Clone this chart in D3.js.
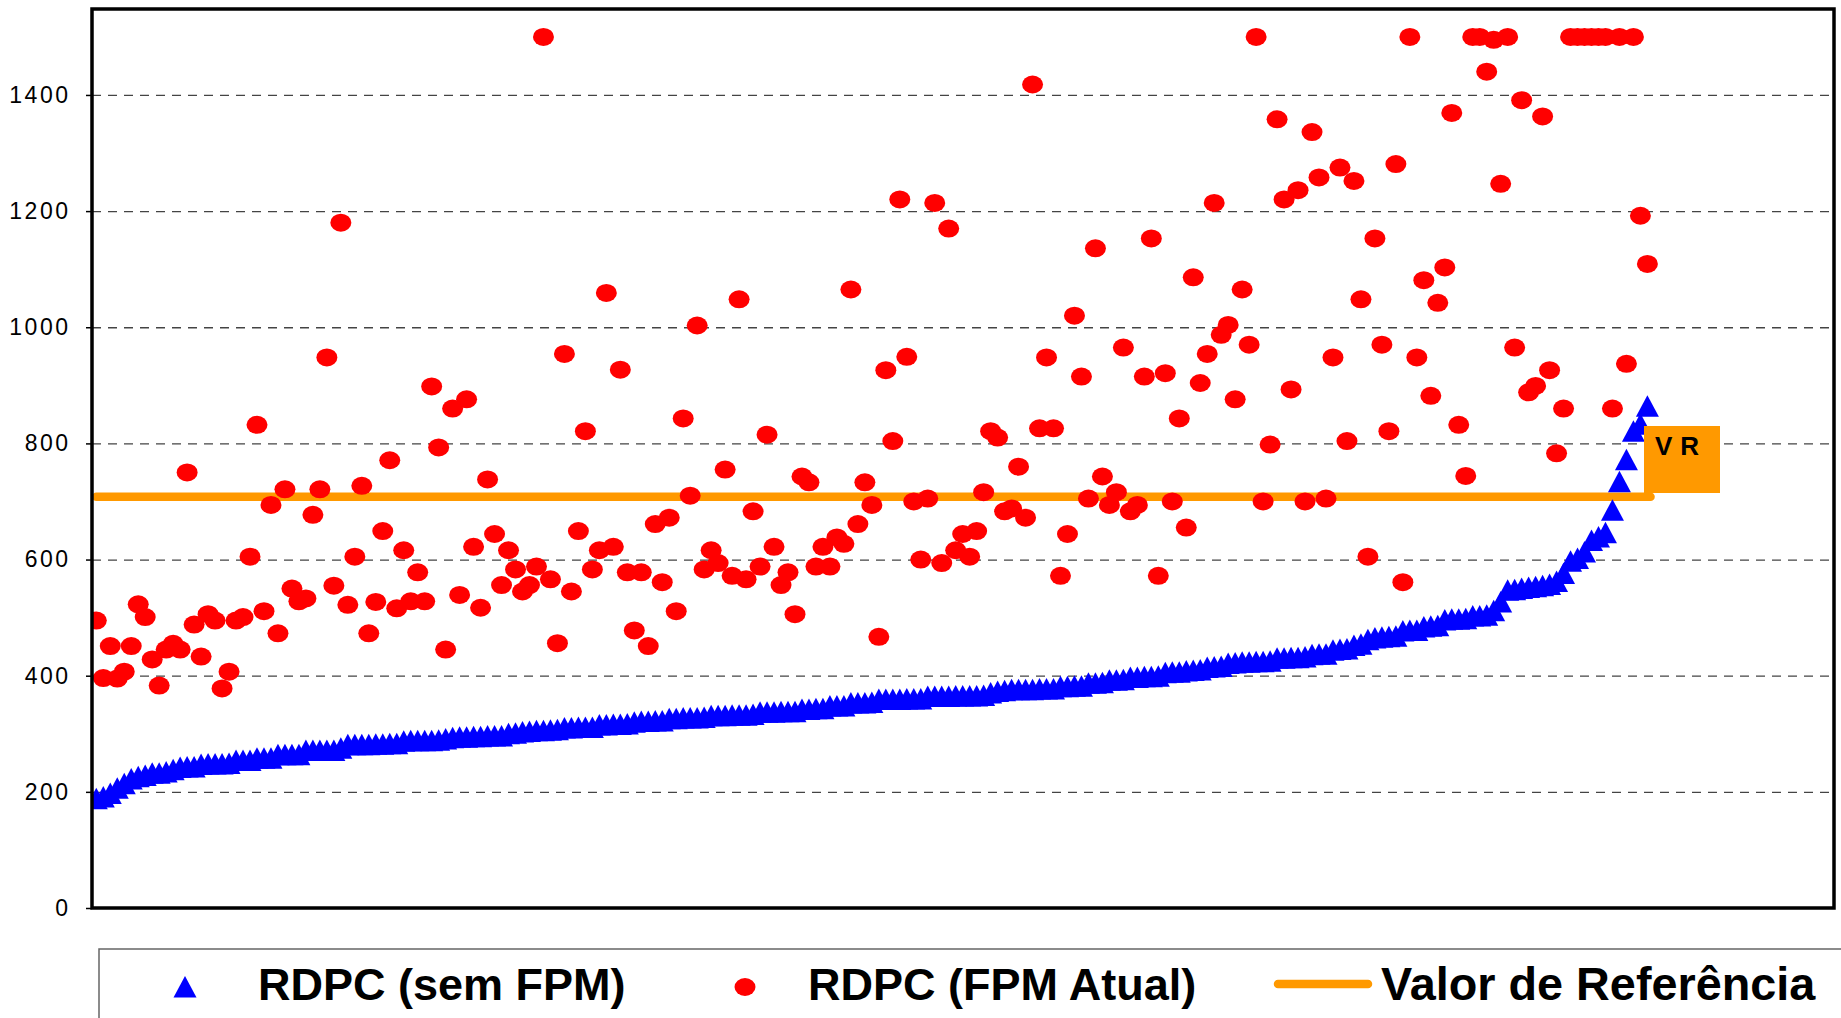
<!DOCTYPE html>
<html>
<head>
<meta charset="utf-8">
<script src="https://cdn.jsdelivr.net/npm/d3@7"></script>
<style>
  html, body { margin: 0; padding: 0; background: #ffffff; }
  svg { display: block; }
</style>
</head>
<body>
<svg id="chart" width="1841" height="1018"></svg>
<script>
// ---------------- DATA ----------------
// RDPC (sem FPM) — sorted ascending, one per municipality (223)
const rdpcSemFPM = [
  188,191,197,206,214,222,226,228,232,232,
  234,238,242,243,243,247,248,248,248,249,
  254,254,254,258,258,258,264,264,264,264,
  271,271,271,271,271,275,281,281,281,281,
  282,282,283,283,287,288,288,288,288,289,
  291,293,294,294,295,295,296,296,296,300,
  301,303,304,305,305,306,307,310,310,311,
  311,311,315,315,316,316,317,320,321,321,
  322,322,326,326,327,327,327,328,331,331,
  331,332,332,332,333,337,337,337,338,338,
  338,342,342,343,343,348,348,348,353,353,
  353,354,359,359,359,359,360,360,360,364,
  364,364,364,365,365,365,365,366,370,373,
  374,376,376,376,376,377,377,377,381,381,
  382,382,387,387,388,392,392,393,397,397,
  398,398,399,405,406,406,408,409,410,414,
  415,416,421,422,423,423,424,424,425,430,
  430,431,431,432,436,437,437,444,445,446,
  452,454,462,465,466,467,468,477,478,478,
  484,485,486,496,497,497,498,503,503,504,
  512,527,547,548,550,552,553,555,557,562,
  576,597,602,613,633,639,646,685,734,772,
  821,833,864
];
// RDPC (FPM Atual) — same municipalities, same order (values above 1500 shown at 1500)
const rdpcFPMAtual = [
  495,396,451,395,407,451,523,501,428,383,
  445,455,445,750,488,433,506,495,378,407,
  495,501,605,832,511,694,473,721,550,528,
  533,677,721,948,555,1180,522,605,727,473,
  527,649,771,516,616,528,578,528,898,793,
  445,860,539,876,622,517,738,644,556,616,
  583,545,556,588,1500,566,456,954,545,649,
  821,583,616,1059,622,927,578,478,578,451,
  661,561,672,511,843,710,1003,583,616,594,
  755,572,1048,566,683,588,815,622,556,578,
  506,743,733,588,622,588,638,627,1065,661,
  733,694,467,926,804,1220,949,700,600,705,
  1214,594,1170,616,644,605,649,716,821,810,
  683,688,760,672,1418,826,948,826,572,644,
  1020,915,705,1136,743,694,716,965,683,694,
  915,1153,572,921,700,843,655,1086,904,954,
  1214,987,1004,876,1065,970,1500,700,798,1358,
  1220,893,1236,700,1336,1258,705,948,1275,804,
  1252,1048,605,1153,970,821,1281,561,1500,948,
  1081,882,1042,1103,1369,832,744,1500,1500,1440,
  1495,1247,1500,965,1391,888,899,1363,926,783,
  860,1500,1500,1500,1500,1500,1500,860,1500,937,
  1500,1192,1109
];
const valorReferencia = 708;
const yTicks = [0, 200, 400, 600, 800, 1000, 1200, 1400];
const legendLabels = ["RDPC (sem FPM)", "RDPC (FPM Atual)", "Valor de Refer\u00eancia"];
const refLabel = "VR";

// ---------------- LAYOUT ----------------
const svg = d3.select("#chart");
const P = { left: 92, right: 1834, top: 9, bottom: 908 };
const n = rdpcSemFPM.length;
const x = d3.scaleLinear().domain([0, n - 1]).range([96.3, 1647.4]);
const y = d3.scaleLinear().domain([0, 1548]).range([P.bottom, P.top]);
const idx = d3.range(n);

const COLORS = { tri: "#0000FF", dot: "#FF0000", ref: "#FF9900" };

svg.append("rect").attr("width", 1841).attr("height", 1018).attr("fill", "#fff");

svg.append("clipPath").attr("id", "plotclip")
  .append("rect").attr("x", P.left).attr("y", P.top)
  .attr("width", P.right - P.left).attr("height", P.bottom - P.top);

// gridlines
const grid = svg.append("g")
  .attr("transform", `translate(${P.left},0)`)
  .call(d3.axisLeft(y).tickValues(yTicks.filter(d => d > 0))
        .tickSize(-(P.right - P.left)).tickFormat(""));
grid.select(".domain").remove();
grid.selectAll(".tick line")
  .attr("stroke", "#444").attr("stroke-width", 1.3)
  .attr("stroke-dasharray", "9,7");

// y axis ticks + labels
const yAxis = svg.append("g")
  .attr("transform", `translate(${P.left},0)`)
  .call(d3.axisLeft(y).tickValues(yTicks).tickSize(6).tickPadding(15.5)
        .tickFormat(d3.format("d")));
yAxis.select(".domain").remove();
yAxis.selectAll(".tick line").attr("stroke", "#000").attr("stroke-width", 1.5);
yAxis.selectAll(".tick text")
  .attr("font-family", "'Liberation Sans', Arial, sans-serif")
  .attr("font-size", 23)
  .attr("letter-spacing", "2.5px")
  .attr("fill", "#000");

const plotG = svg.append("g").attr("clip-path", "url(#plotclip)");

// reference line
const refLine = d3.line().x(d => x(d)).y(() => y(valorReferencia));
plotG.append("path")
  .datum([0, n - 1 + 0.45])
  .attr("d", refLine)
  .attr("fill", "none")
  .attr("stroke", COLORS.ref)
  .attr("stroke-width", 8.5)
  .attr("stroke-linecap", "round");

// triangles
const triPath = "M0,-11L11.5,10.5L-11.5,10.5Z";
plotG.append("g").selectAll("path")
  .data(idx)
  .join("path")
  .attr("d", triPath)
  .attr("transform", i => `translate(${x(i)},${y(rdpcSemFPM[i])})`)
  .attr("fill", COLORS.tri);

// dots
plotG.append("g").selectAll("ellipse")
  .data(idx)
  .join("ellipse")
  .attr("cx", i => x(i))
  .attr("cy", i => y(rdpcFPMAtual[i]))
  .attr("rx", 10.5).attr("ry", 9)
  .attr("fill", COLORS.dot);

// VR box
const vrG = svg.append("g");
vrG.append("rect")
  .attr("x", 1644).attr("y", 426).attr("width", 76).attr("height", 67)
  .attr("fill", COLORS.ref);
vrG.append("text")
  .attr("x", 1655).attr("y", 455)
  .attr("font-family", "'Liberation Sans', Arial, sans-serif")
  .attr("font-weight", "bold").attr("font-size", 26)
  .attr("letter-spacing", "8px")
  .attr("fill", "#000")
  .text(refLabel);

// plot frame
svg.append("rect")
  .attr("x", P.left).attr("y", P.top)
  .attr("width", P.right - P.left).attr("height", P.bottom - P.top)
  .attr("fill", "none").attr("stroke", "#000").attr("stroke-width", 3.5);

// ---------------- LEGEND ----------------
const lg = svg.append("g");
lg.append("rect")
  .attr("x", 99).attr("y", 949).attr("width", 1800).attr("height", 200)
  .attr("fill", "#fff").attr("stroke", "#666").attr("stroke-width", 1.5);

const legFont = "'Liberation Sans', Arial, sans-serif";
lg.append("path").attr("d", triPath)
  .attr("transform", "translate(185,987)").attr("fill", COLORS.tri);
lg.append("ellipse").attr("cx", 745).attr("cy", 987).attr("rx", 10.5).attr("ry", 9)
  .attr("fill", COLORS.dot);
lg.append("line").attr("x1", 1278).attr("x2", 1368).attr("y1", 984).attr("y2", 984)
  .attr("stroke", COLORS.ref).attr("stroke-width", 8.5).attr("stroke-linecap", "round");

const legX = [258, 808, 1381];
const legSize = [45, 45, 46.8];
lg.selectAll("text.leg")
  .data(legendLabels)
  .join("text")
  .attr("class", "leg")
  .attr("x", (d, i) => legX[i])
  .attr("y", 1000)
  .attr("font-family", legFont)
  .attr("font-weight", "bold")
  .attr("font-size", (d, i) => legSize[i])
  .attr("fill", "#000")
  .text(d => d);
</script>
</body>
</html>
